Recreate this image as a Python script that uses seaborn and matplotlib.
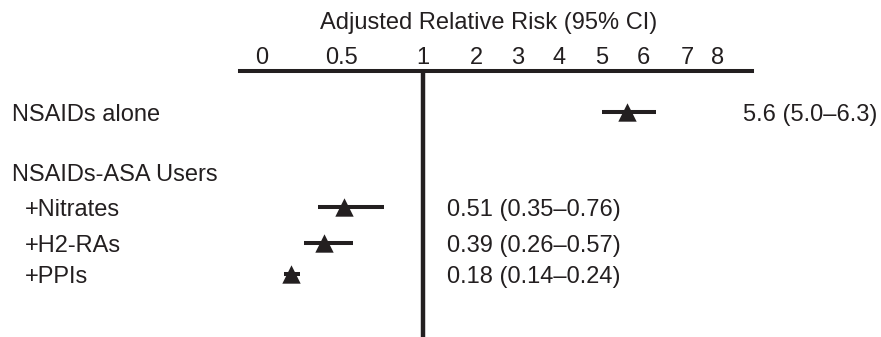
import numpy as np
import pandas as pd
import matplotlib
matplotlib.use("Agg")
import matplotlib.pyplot as plt
import matplotlib.transforms as mtransforms
import seaborn as sns

# ---------------------------------------------------------------------------
# data
# ---------------------------------------------------------------------------
groups = ["NSAIDs alone", "+Nitrates", "+H2-RAs", "+PPIs"]
rr = [5.6, 0.51, 0.39, 0.18]
ci_low = [5.0, 0.35, 0.26, 0.14]
ci_high = [6.3, 0.76, 0.57, 0.24]
value_labels = ["5.6 (5.0\u20136.3)", "0.51 (0.35\u20130.76)",
                "0.39 (0.26\u20130.57)", "0.18 (0.14\u20130.24)"]
header_label = "NSAIDs-ASA Users"
tick_values = [0, 0.5, 1, 2, 3, 4, 5, 6, 7, 8]
tick_labels = ["0", "0.5", "1", "2", "3", "4", "5", "6", "7", "8"]

# ---------------------------------------------------------------------------
# layout (pixel columns of the hand-drawn, non-uniform axis; row positions)
# ---------------------------------------------------------------------------
W, H = 881, 337
TICK_POS = [262, 342, 423, 476, 518, 559, 602, 643, 687, 718]
AX_LEFT, AX_RIGHT, AX_TOP = 240, 752, 71
ROW_Y = [112, 207, 243, 274]
HEADER_Y = 172
INK = "#231f20"


def _extrap(v, xs, ys):
    v = np.asarray(v, dtype=float)
    out = np.interp(v, xs, ys)
    lo_slope = (ys[1] - ys[0]) / (xs[1] - xs[0])
    hi_slope = (ys[-1] - ys[-2]) / (xs[-1] - xs[-2])
    out = np.where(v < xs[0], ys[0] + (v - xs[0]) * lo_slope, out)
    out = np.where(v > xs[-1], ys[-1] + (v - xs[-1]) * hi_slope, out)
    return out


def forward(v):
    return _extrap(v, tick_values, TICK_POS)


def inverse(p):
    return _extrap(p, TICK_POS, tick_values)


df = pd.DataFrame({"group": groups, "rr": rr, "lo": ci_low, "hi": ci_high,
                   "label": value_labels, "row": ROW_Y})

sns.set_theme(style="white")
plt.rcParams["font.family"] = ["Liberation Sans", "DejaVu Sans"]

fig = plt.figure(figsize=(W / 100, H / 100), dpi=100)
ax = fig.add_axes([AX_LEFT / W, 0, (AX_RIGHT - AX_LEFT) / W, 1 - AX_TOP / H])
ax.set_xscale("function", functions=(forward, inverse))

# confidence intervals + point estimates
ax.hlines(df["row"], df["lo"], df["hi"], color=INK, lw=2.9, zorder=2)
sns.scatterplot(data=df, x="rr", y="row", marker="^", s=175, color=INK,
                edgecolor=INK, linewidth=0, ax=ax, zorder=3, legend=False)

# reference line at RR = 1
ax.axvline(1, color=INK, lw=3.2, zorder=1)

ax.set_xlim(float(inverse(AX_LEFT)), float(inverse(AX_RIGHT)))
ax.set_ylim(H, AX_TOP)

# axis on top
ax.xaxis.tick_top()
ax.set_xticks(tick_values)
ax.set_xticklabels(tick_labels)
ax.set_xticks([1], minor=True)
ax.tick_params(axis="x", which="major", length=0, pad=1.5, labelsize=17,
               labelcolor=INK)
ax.tick_params(axis="x", which="minor", top=True, length=2.5, width=1.5,
               color=INK, direction="out")
ax.set_yticks([])
ax.set_xlabel("")
ax.set_ylabel("")
for side in ["left", "right", "bottom"]:
    ax.spines[side].set_visible(False)
ax.spines["top"].set_linewidth(2.9)
ax.spines["top"].set_color(INK)
ax.set_facecolor("none")

fig.text(489 / W, 1 - 23 / H, "Adjusted Relative Risk (95% CI)",
         ha="center", va="center", fontsize=17, color=INK)

# row labels and values (nudged down a little so the caps sit on the row)
trans = mtransforms.blended_transform_factory(fig.transFigure, ax.transData)
trans = mtransforms.offset_copy(trans, fig=fig, y=-2.5, units="dots")
ax.text(12 / W, HEADER_Y, header_label, transform=trans, ha="left",
        va="center", fontsize=17, color=INK, clip_on=False)
for i, r in df.iterrows():
    x_lab = 12 / W if i == 0 else 25 / W
    x_val = 743 / W if i == 0 else 447 / W
    ax.text(x_lab, r["row"], r["group"], transform=trans, ha="left",
            va="center", fontsize=17, color=INK, clip_on=False)
    ax.text(x_val, r["row"], r["label"], transform=trans, ha="left",
            va="center", fontsize=17, color=INK, clip_on=False)

fig.savefig("out.png", dpi=100)
